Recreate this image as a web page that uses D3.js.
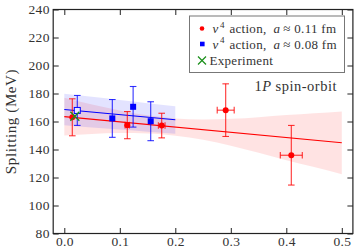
<!DOCTYPE html>
<html><head><meta charset="utf-8">
<script src="https://cdn.jsdelivr.net/npm/d3@7"></script>
<style>
html,body{margin:0;padding:0;background:#fff;}
svg{display:block;}
</style></head>
<body>
<script>
// Data
const xTicks = [0.0, 0.1, 0.2, 0.3, 0.4, 0.5];
const yTicks = [80, 100, 120, 140, 160, 180, 200, 220, 240];

// v4 action, a ≈ 0.11 fm
const redX    = [0.0144, 0.1135, 0.1755, 0.2908, 0.409];
const redY    = [163.0, 157.4, 157.1, 168.1, 135.9];
const redErrY = [13.2, 9.7, 8.8, 18.8, 21.3];
const redErrX = [0.0, 0.004, 0.006, 0.0153, 0.0198];

// v4 action, a ≈ 0.08 fm
const blueX    = [0.0234, 0.0865, 0.124, 0.1557];
const blueY    = [167.9, 162.2, 170.5, 160.2];
const blueErrY = [10.7, 13.5, 14.5, 13.9];

// Experiment
const expX = [0.019];
const expY = [163.8];

// Fit lines
const redLineX = [0.0, 0.5];
const redLineY = [163.5, 144.8];
const blueLineX = [0.0, 0.2];
const blueLineY = [168.6, 161.2];

// Fit bands
const redBandX  = [0, 0.05, 0.1, 0.15, 0.2, 0.25, 0.3, 0.35, 0.4, 0.45, 0.5];
const redBandHi = [177.0, 172.1, 167.9, 164.4, 162.2, 161.4, 161.9, 163.1, 164.6, 165.9, 167.2];
const redBandLo = [150.0, 151.1, 151.7, 151.4, 149.8, 147.0, 142.7, 137.7, 132.4, 127.5, 122.4];
const blueBandX  = [0, 0.05, 0.1, 0.15, 0.2];
const blueBandHi = [179.8, 177.6, 175.4, 173.1, 170.9];
const blueBandLo = [157.4, 155.8, 154.3, 152.7, 151.2];

const FONT = "'Liberation Serif', 'Times New Roman', 'DejaVu Serif', serif";
const W = 357, H = 251;
const svg = d3.select("body").append("svg").attr("width", W).attr("height", H)
  .style("font-family", FONT);

const x = d3.scaleLinear().domain([-0.02, 0.52]).range([53.2, 352.9]);
const y = d3.scaleLinear().domain([80, 240]).range([233.5, 9.5]);

const RED = "#ff0000", BLUE = "#0000ff", GREEN = "#1a8f1a";

// bands
const area = d3.area().x(d => x(d[0])).y0(d => y(d[1])).y1(d => y(d[2])).curve(d3.curveMonotoneX);
svg.append("path").datum(redBandX.map((v,i)=>[v, redBandLo[i], redBandHi[i]]))
  .attr("d", area).attr("fill", RED).attr("fill-opacity", 0.11);
svg.append("path").datum(blueBandX.map((v,i)=>[v, blueBandLo[i], blueBandHi[i]]))
  .attr("d", area).attr("fill", BLUE).attr("fill-opacity", 0.11);

// fit lines
const line = d3.line().x(d => x(d[0])).y(d => y(d[1]));
svg.append("path").datum(redLineX.map((v,i)=>[v, redLineY[i]]))
  .attr("d", line).attr("stroke", RED).attr("stroke-width", 1.1).attr("fill", "none");
svg.append("path").datum(blueLineX.map((v,i)=>[v, blueLineY[i]]))
  .attr("d", line).attr("stroke", BLUE).attr("stroke-width", 1.1).attr("fill", "none");

// error bars
function errbars(xs, ys, ey, ex, color) {
  const g = svg.append("g").attr("stroke", color).attr("stroke-width", 1.1).attr("fill", "none").attr("stroke-opacity", 0.8);
  xs.forEach((xv, i) => {
    const cx = x(xv), top = y(ys[i] + ey[i]), bot = y(ys[i] - ey[i]), cy = y(ys[i]);
    g.append("line").attr("x1", cx).attr("x2", cx).attr("y1", top).attr("y2", bot);
    g.append("line").attr("x1", cx - 3.3).attr("x2", cx + 3.3).attr("y1", top).attr("y2", top);
    g.append("line").attr("x1", cx - 3.3).attr("x2", cx + 3.3).attr("y1", bot).attr("y2", bot);
    if (ex && ex[i] > 0) {
      const l = x(xv - ex[i]), r = x(xv + ex[i]);
      g.append("line").attr("x1", l).attr("x2", r).attr("y1", cy).attr("y2", cy);
      g.append("line").attr("x1", l).attr("x2", l).attr("y1", cy - 3.3).attr("y2", cy + 3.3);
      g.append("line").attr("x1", r).attr("x2", r).attr("y1", cy - 3.3).attr("y2", cy + 3.3);
    }
  });
}
errbars(blueX, blueY, blueErrY, null, BLUE);
errbars(redX, redY, redErrY, redErrX, RED);

// markers
svg.append("g").selectAll("rect").data(blueX).join("rect")
  .attr("x", (d) => x(d) - 3).attr("y", (d, i) => y(blueY[i]) - 3)
  .attr("width", 6).attr("height", 6)
  .attr("fill", (d, i) => i === 0 ? "#e8e8ff" : BLUE)
  .attr("stroke", BLUE).attr("stroke-width", (d, i) => i === 0 ? 1 : 0);
svg.append("g").selectAll("circle").data(redX).join("circle")
  .attr("cx", d => x(d)).attr("cy", (d, i) => y(redY[i])).attr("r", 3).attr("fill", RED);

// experiment X
svg.append("g").selectAll("path").data(expX).join("path")
  .attr("d", (d, i) => {
    const cx = x(d), cy = y(expY[i]), s = 4.5;
    return `M${cx-s},${cy-s}L${cx+s},${cy+s}M${cx-s},${cy+s}L${cx+s},${cy-s}`;
  })
  .attr("stroke", GREEN).attr("stroke-width", 1.3).attr("fill", "none");

// axes with inward ticks, mirrored
const tickLen = 5.5;
const axB = svg.append("g").attr("transform", `translate(0,${y(80)})`)
  .call(d3.axisBottom(x).tickValues(xTicks).tickSize(-tickLen).tickPadding(2.5).tickFormat(d3.format(".1f")));
const axT = svg.append("g").attr("transform", `translate(0,${y(240)})`)
  .call(d3.axisTop(x).tickValues(xTicks).tickSize(-tickLen).tickFormat(""));
const axL = svg.append("g").attr("transform", `translate(${x(-0.02)},0)`)
  .call(d3.axisLeft(y).tickValues(yTicks).tickSize(-tickLen).tickPadding(3.5).tickFormat(d3.format("d")));
const axR = svg.append("g").attr("transform", `translate(${x(0.52)},0)`)
  .call(d3.axisRight(y).tickValues(yTicks).tickSize(-tickLen).tickFormat(""));
[axB, axT, axL, axR].forEach(a => {
  a.attr("font-family", null).style("font-family", FONT);
  a.select(".domain").remove();
  a.selectAll("line").attr("stroke", "#222").attr("stroke-width", 1);
  a.selectAll("text").style("font-family", FONT).attr("font-size", 13.5).attr("fill", "#333")
    .attr("letter-spacing", 0.3);
});
// frame
svg.append("rect").attr("x", x(-0.02)).attr("y", y(240))
  .attr("width", x(0.52) - x(-0.02)).attr("height", y(80) - y(240))
  .attr("fill", "none").attr("stroke", "#222").attr("stroke-width", 1.2);

// y label
svg.append("text").attr("transform", `translate(16,${(y(80)+y(240))/2}) rotate(-90)`)
  .style("font-family", FONT).attr("letter-spacing", 0.6)
  .attr("text-anchor", "middle").attr("font-size", 15).attr("fill", "#333").text("Splitting (MeV)");

// annotation
const ann = svg.append("text").attr("x", 337).attr("y", 91).attr("text-anchor", "end")
  .style("font-family", FONT).attr("font-size", 14.5).attr("letter-spacing", 0.5).attr("fill", "#333");
ann.append("tspan").text("1");
ann.append("tspan").attr("font-style", "italic").text("P");
ann.append("tspan").text(" spin-orbit");

// legend
const lg = svg.append("g").style("font-family", FONT);
lg.append("rect").attr("x", 189.5).attr("y", 16).attr("width", 155).attr("height", 56.5)
  .attr("fill", "#fff").attr("fill-opacity", 0.9).attr("stroke", "#777").attr("stroke-width", 1);
const rows = [
  {label: "0.11", type: "circle", color: RED},
  {label: "0.08", type: "square", color: BLUE}
];
rows.forEach((r, i) => {
  const cy = 28.5 + i * 15.5;
  if (r.type === "circle") lg.append("circle").attr("cx", 202).attr("cy", cy).attr("r", 2.3).attr("fill", r.color);
  else lg.append("rect").attr("x", 200).attr("y", cy - 2.3).attr("width", 4.6).attr("height", 4.6).attr("fill", r.color);
  const t = lg.append("text").attr("x", 212.5).attr("y", cy + 4.5).attr("font-size", 13)
    .attr("letter-spacing", 0.3).attr("fill", "#333");
  t.append("tspan").attr("font-style", "italic").text("v");
  t.append("tspan").attr("font-size", 9).attr("dx", 1.5).attr("dy", -5.5).text("4");
  t.append("tspan").attr("dy", 5.5).attr("dx", 4.5).text("action,");
  t.append("tspan").attr("dx", 7).attr("font-style", "italic").text("a");
  t.append("tspan").attr("dx", 3).text("≈ " + r.label + " fm");
});
{
  const cy = 60.5, cx = 202, s = 4;
  lg.append("path").attr("d", `M${cx-s},${cy-s}L${cx+s},${cy+s}M${cx-s},${cy+s}L${cx+s},${cy-s}`)
    .attr("stroke", GREEN).attr("stroke-width", 1.2).attr("fill", "none");
  lg.append("text").attr("x", 209.5).attr("y", cy + 4.5).attr("font-size", 13)
    .attr("letter-spacing", 0.3).attr("fill", "#333").text("Experiment");
}
</script>
</body></html>
